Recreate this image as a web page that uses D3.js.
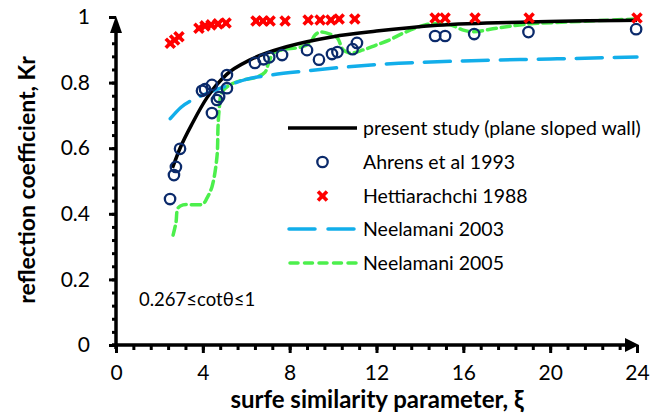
<!DOCTYPE html>
<html><head><meta charset="utf-8">
<script src="https://cdn.jsdelivr.net/npm/d3@7"></script>
<style>body{margin:0;background:#fff}svg{display:block}text{font-family:Lato,"Open Sans",sans-serif}</style>
</head><body><svg id="c" width="668" height="414"></svg>
<script>
// ---- data ----
const xTicks = [0, 4, 8, 12, 16, 20, 24];
const yTicks = [0, 0.2, 0.4, 0.6, 0.8, 1];
const yTickLabels = ["0", "0.2", "0.4", "0.6", "0.8", "1"];
const presentX = [2.6, 2.95, 3.55, 4.2, 5.1, 6.2, 7.9, 10, 12, 14.8, 19, 24];
const presentY = [0.54, 0.6, 0.68, 0.755, 0.825, 0.87, 0.91, 0.94, 0.957, 0.975, 0.985, 0.99];
const ahrensX = [2.49, 2.67, 2.76, 2.95, 4.42, 3.96, 4.1, 4.42, 4.65, 4.75, 5.11, 5.11, 6.4, 6.8, 7.06, 7.65, 8.8, 9.35, 9.95, 10.2, 10.9, 11.1, 14.7, 15.16, 16.5, 19.0, 23.96];
const ahrensY = [0.445, 0.518, 0.543, 0.598, 0.707, 0.775, 0.78, 0.793, 0.747, 0.756, 0.783, 0.823, 0.86, 0.871, 0.877, 0.884, 0.899, 0.87, 0.887, 0.893, 0.902, 0.921, 0.942, 0.942, 0.948, 0.954, 0.963];
const hettX = [2.5, 2.7, 2.9, 3.82, 4.1, 4.38, 4.7, 5.07, 6.45, 6.77, 7.1, 7.79, 8.85, 9.4, 9.9, 10.28, 11.0, 14.7, 15.16, 16.54, 19.03, 24.0];
const hettY = [0.92, 0.93, 0.94, 0.966, 0.973, 0.976, 0.979, 0.982, 0.988, 0.988, 0.988, 0.988, 0.991, 0.991, 0.991, 0.994, 0.994, 0.997, 0.997, 0.997, 0.997, 0.997];
const neel03X = [2.5, 3.0, 3.6, 4.3, 5.1, 6.0, 7.0, 8.8, 12, 16, 20, 24];
const neel03Y = [0.69, 0.725, 0.75, 0.77, 0.79, 0.81, 0.822, 0.836, 0.855, 0.866, 0.872, 0.878];
const neel05X = [2.63, 2.76, 2.86, 3.09, 4.0, 4.19, 4.42, 4.65, 4.7, 4.75, 4.88, 5.25, 5.85, 6.5, 6.87, 7.0, 7.25, 7.65, 8.5, 8.94, 9.17, 9.4, 9.86, 10.2, 10.46, 10.8, 11.4, 12.0, 12.6, 13.2, 14.24, 14.8, 15.4, 16.0, 16.45, 17.55, 18.9, 20.9, 24.0];
const neel05Y = [0.335, 0.372, 0.418, 0.427, 0.43, 0.448, 0.482, 0.573, 0.665, 0.716, 0.771, 0.793, 0.808, 0.817, 0.832, 0.854, 0.89, 0.9, 0.908, 0.921, 0.945, 0.954, 0.948, 0.936, 0.9, 0.89, 0.9, 0.915, 0.93, 0.95, 0.976, 0.98, 0.976, 0.96, 0.955, 0.966, 0.978, 0.985, 0.994];
const legendLabels = ["present study (plane sloped wall)", "Ahrens et al 1993", "Hettiarachchi 1988", "Neelamani 2003", "Neelamani 2005"];

const svg = d3.select("#c");
const x = d3.scaleLinear().domain([0, 24]).range([116, 637]);
const y = d3.scaleLinear().domain([0, 1]).range([345, 17]);

const C = {black:"#000", navy:"#0B2A6B", red:"#FF0000", blue:"#12AEEA", green:"#4CEF4C"};

// axes
const minorX = d3.range(0, 24.01, 0.8);
const minorY = d3.range(0, 1.001, 0.04);
const gx = svg.append("g").attr("transform", `translate(0,${y(0)})`);
gx.call(d3.axisBottom(x).tickValues(minorX).tickSize(5).tickFormat(""));
gx.call(g => g.selectAll(".tick line").attr("stroke-width", 3));
gx.append("g").call(d3.axisBottom(x).tickValues(xTicks).tickSize(8).tickFormat(d3.format("d")).tickPadding(12))
  .call(g => { g.select(".domain").remove(); g.selectAll(".tick line").attr("stroke-width", 3); g.selectAll("text").attr("font-size", 21).attr("fill", "#000").attr("font-family", "Lato"); });
gx.select(".domain").remove();
const gy = svg.append("g").attr("transform", `translate(${x(0)},0)`);
gy.call(d3.axisLeft(y).tickValues(minorY).tickSize(4).tickFormat(""));
gy.call(g => g.selectAll(".tick line").attr("stroke-width", 3));
gy.append("g").call(d3.axisLeft(y).tickValues(yTicks).tickSize(7).tickFormat((d, i) => yTickLabels[i]).tickPadding(19))
  .call(g => { g.select(".domain").remove(); g.selectAll(".tick line").attr("stroke-width", 3); g.selectAll("text").attr("font-size", 21).attr("fill", "#000").attr("font-family", "Lato"); });
gy.select(".domain").remove();
// axis lines
svg.append("line").attr("x1", x(0) - 4).attr("x2", x(24) - 8).attr("y1", y(0)).attr("y2", y(0)).attr("stroke", "#000").attr("stroke-width", 3.5);
svg.append("line").attr("x1", x(0)).attr("x2", x(0)).attr("y1", y(0) + 4).attr("y2", y(1) + 8).attr("stroke", "#000").attr("stroke-width", 3.5);
svg.append("path").attr("d", `M${x(0)},${y(1) - 1} L${x(0) - 6},${y(1) + 16} L${x(0) + 6},${y(1) + 16}Z`).attr("fill", "#000");
svg.append("path").attr("d", `M${x(24) + 2},${y(0)} L${x(24) - 12},${y(0) - 7} L${x(24) - 12},${y(0) + 7}Z`).attr("fill", "#000");

// series lines
const line = d3.line().x(d => x(d[0])).y(d => y(d[1]));
const lineC = d3.line().x(d => x(d[0])).y(d => y(d[1])).curve(d3.curveMonotoneX);
const zip = (a, b) => a.map((v, i) => [v, b[i]]);
svg.append("path").datum(zip(neel05X, neel05Y)).attr("d", line.curve(d3.curveCatmullRom.alpha(0.5)))
  .attr("fill", "none").attr("stroke", C.green).attr("stroke-width", 3.5).attr("stroke-dasharray", "9,5").attr("stroke-linecap", "round");
svg.append("path").datum(zip(neel03X, neel03Y)).attr("d", lineC)
  .attr("fill", "none").attr("stroke", C.blue).attr("stroke-width", 3.5).attr("stroke-dasharray", "26,12").attr("stroke-linecap", "round");
svg.append("path").datum(zip(presentX, presentY)).attr("d", lineC)
  .attr("fill", "none").attr("stroke", C.black).attr("stroke-width", 3.5);

// markers
svg.append("g").selectAll("circle").data(zip(ahrensX, ahrensY)).join("circle")
  .attr("cx", d => x(d[0])).attr("cy", d => y(d[1])).attr("r", 5.2)
  .attr("fill", "none").attr("stroke", C.navy).attr("stroke-width", 2.3);
const xMark = (g, cx, cy) => g.append("path")
  .attr("d", `M${cx - 4.5},${cy - 4.5}L${cx + 4.5},${cy + 4.5}M${cx - 4.5},${cy + 4.5}L${cx + 4.5},${cy - 4.5}M${cx - 3},${cy}L${cx + 3},${cy}`)
  .attr("stroke", C.red).attr("stroke-width", 3.6).attr("fill", "none");
const hg = svg.append("g");
zip(hettX, hettY).forEach(d => xMark(hg, x(d[0]), y(d[1])));

// legend
const lg = svg.append("g");
const rows = [128, 162, 196, 229, 263];
const lx1 = 288, lx2 = 357;
lg.append("line").attr("x1", lx1).attr("x2", lx2).attr("y1", rows[0]).attr("y2", rows[0]).attr("stroke", C.black).attr("stroke-width", 3.5);
lg.append("circle").attr("cx", (lx1 + lx2) / 2).attr("cy", rows[1]).attr("r", 5.2).attr("fill", "none").attr("stroke", C.navy).attr("stroke-width", 2.3);
xMark(lg, (lx1 + lx2) / 2, rows[2]);
lg.append("line").attr("x1", lx1 + 1).attr("x2", lx2).attr("y1", rows[3]).attr("y2", rows[3]).attr("stroke", C.blue).attr("stroke-width", 3.5).attr("stroke-dasharray", "26,13").attr("stroke-linecap", "round");
lg.append("line").attr("x1", lx1 + 2).attr("x2", lx2).attr("y1", rows[4]).attr("y2", rows[4]).attr("stroke", C.green).attr("stroke-width", 3.5).attr("stroke-dasharray", "8,6.5").attr("stroke-linecap", "round");
lg.selectAll("text").data(legendLabels).join("text")
  .attr("x", 363).attr("y", (d, i) => rows[i]).attr("dy", "0.35em")
  .attr("font-size", 19.5).attr("fill", "#000").text(d => d);

// annotation & titles
svg.append("text").attr("x", 139).attr("y", 300).attr("dy", "0.35em").attr("font-size", 18.5).text("0.267≤cotθ≤1");
svg.append("text").attr("x", 377).attr("y", 408).attr("text-anchor", "middle").attr("font-size", 24).attr("font-weight", "bold").text("surfe similarity parameter, ξ");
svg.append("text").attr("transform", "translate(35,180) rotate(-90)").attr("text-anchor", "middle").attr("font-size", 23).attr("font-weight", "bold").text("reflection coefficient, Kr");
</script></body></html>
